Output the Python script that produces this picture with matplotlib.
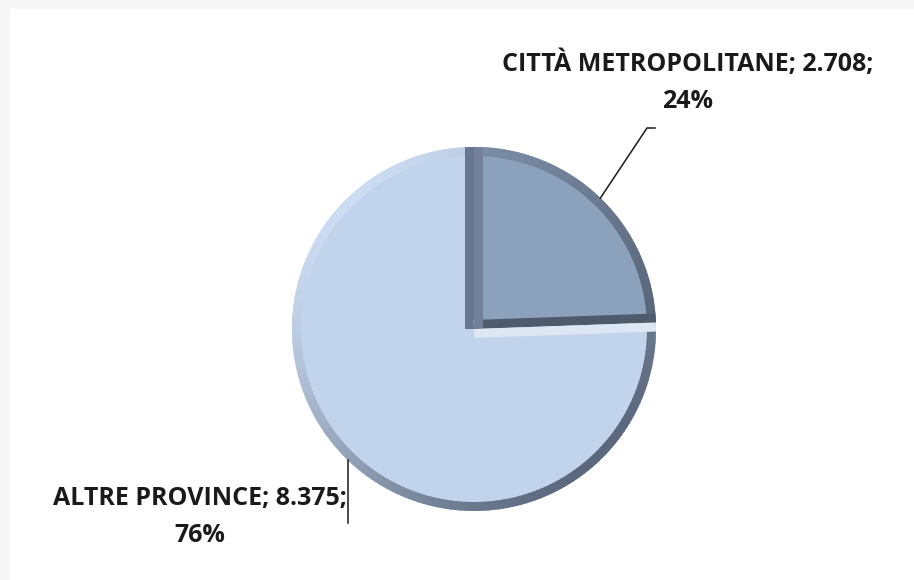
import numpy as np
import matplotlib
matplotlib.use("Agg")
import matplotlib.pyplot as plt
from matplotlib.patches import Wedge, Rectangle
from matplotlib.colors import to_rgb

# ---- data ----
categories = ["CITTÀ METROPOLITANE", "ALTRE PROVINCE"]
values = [2708, 8375]
value_labels = ["2.708", "8.375"]
pct_labels = ["24%", "76%"]

face_colors = ["#8BA1BC", "#C2D3EC"]
rim_light = ["#8396AF", "#CCDDF3"]
rim_dark = ["#505C70", "#5A677C"]
# bevel colours for the straight edges, keyed by the edge angle position (start, end)
edge_colors = [("#4F5B6C", "#728199"), ("#687590", "#DDE7F4")]

W, H = 914, 580
fig = plt.figure(figsize=(W / 100, H / 100), dpi=100, facecolor="#F7F7F7")
ax = fig.add_axes([0, 0, 1, 1])
ax.set_facecolor("none")
ax.add_patch(Rectangle((10, 0), W, H - 9, facecolor="white", edgecolor="none", zorder=-5))

wedges, _ = ax.pie(values, startangle=90, counterclock=False, center=(474, 251),
                   radius=182, explode=[0.06, 0], colors=face_colors,
                   wedgeprops=dict(linewidth=0))

rim = 9
for i, w in enumerate(wedges):
    c = np.array(w.center)
    r = w.r
    t1, t2 = w.theta1, w.theta2
    la, da = np.array(to_rgb(rim_light[i])), np.array(to_rgb(rim_dark[i]))
    step = 1.5
    a = t1
    while a < t2:
        b = min(a + step, t2)
        mid = (a + b) / 2
        t = (1 - np.cos(np.radians(mid - 135))) / 2
        col = la * (1 - t) + da * t
        ax.add_patch(Wedge(c, r, a, min(b + 0.4, t2), width=rim, facecolor=col,
                           edgecolor="none", zorder=3))
        a = b
    for ang, ec in zip((t1, t2), edge_colors[i]):
        p = c + r * np.array([np.cos(np.radians(ang)), np.sin(np.radians(ang))])
        ln, = ax.plot([c[0], p[0]], [c[1], p[1]], color=ec, lw=2 * rim * 0.72,
                      solid_capstyle="butt", zorder=4)
        ln.set_clip_path(w)

txt_kw = dict(fontsize=18, fontweight="bold", family=["Open Sans", "DejaVu Sans"],
              color="#1a1a1a", ha="center", va="center", linespacing=1.62, zorder=6)

w = wedges[0]
mid = np.radians((w.theta1 + w.theta2) / 2)
p0 = np.array(w.center) + w.r * np.array([np.cos(mid), np.sin(mid)])
ax.plot([p0[0], 647, 655], [p0[1], H - 128, H - 128], color="#1a1a1a", lw=1.1, zorder=5)
ax.text(688, H - 82, f"{categories[0]}; {value_labels[0]};\n{pct_labels[0]}", **txt_kw)

w = wedges[1]
mid = np.radians((w.theta1 + w.theta2) / 2)
p1 = np.array(w.center) + w.r * np.array([np.cos(mid), np.sin(mid)])
ax.plot([p1[0], p1[0]], [p1[1], H - 523], color="#1a1a1a", lw=1.1, zorder=5)
ax.text(200, H - 517, f"{categories[1]}; {value_labels[1]};\n{pct_labels[1]}", **txt_kw)

ax.set_xlim(0, W)
ax.set_ylim(0, H)
ax.set_aspect("equal")
ax.axis("off")
fig.savefig("out.png", dpi=100, facecolor=fig.get_facecolor())
